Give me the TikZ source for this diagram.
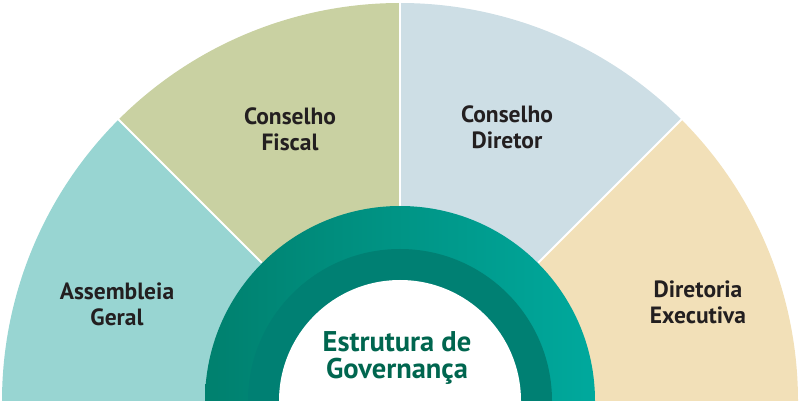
\documentclass[tikz,border=0pt]{standalone}
\usepackage{fontspec}
\setmainfont{PT Sans}
\definecolor{cAss}{HTML}{98D5D2}
\definecolor{cFis}{HTML}{C9D1A2}
\definecolor{cDir}{HTML}{CDDEE5}
\definecolor{cExe}{HTML}{F2E0B8}
\definecolor{ringL}{HTML}{00806E}
\definecolor{ringR}{HTML}{00A99D}
\definecolor{ringD}{HTML}{008073}
\definecolor{titleC}{HTML}{00664F}
\definecolor{labC}{HTML}{231F20}
\begin{document}
\begin{tikzpicture}[x=1pt,y=1pt,
  lab/.style={font=\bfseries\fontsize{23.5}{26}\selectfont, text=labC, align=center, inner sep=0pt},
  ttl/.style={font=\bfseries\fontsize{28.5}{27.5}\selectfont, text=titleC, align=center, inner sep=0pt},
  sep/.style={white, line width=2pt}]
\useasboundingbox (0,0) rectangle (800,401);
\coordinate (C) at (400,0);
% sectors
\fill[cAss] (C) -- ++(180:398) arc[start angle=180,end angle=135,radius=398] -- cycle;
\fill[cFis] (C) -- ++(135:398) arc[start angle=135,end angle=90,radius=398] -- cycle;
\fill[cDir] (C) -- ++(90:398) arc[start angle=90,end angle=45,radius=398] -- cycle;
\fill[cExe] (C) -- ++(45:398) arc[start angle=45,end angle=0,radius=398] -- cycle;
\foreach \a in {45,90,135} \draw[sep] (C) -- ++(\a:399);
% ring
\shade[left color=ringL, right color=ringR] (C) ++(195,0) arc[start angle=0,end angle=180,radius=195] -- cycle;
\fill[ringD] (C) ++(152,0) arc[start angle=0,end angle=180,radius=152] -- cycle;
\fill[white] (C) ++(121,0) arc[start angle=0,end angle=180,radius=121] -- cycle;
% labels
\node[lab] (ass) at (117,97) {Assembleia\\Geral};
\node[lab] (fis) at (290,272) {Conselho\\Fiscal};
\node[lab] (dir) at (507,274) {Conselho\\Diretor};
\node[lab] (exe) at (698,99) {Diretoria\\Executiva};
\node[ttl] (title) at (397,43) {Estrutura de\\Governança};
\end{tikzpicture}
\end{document}
